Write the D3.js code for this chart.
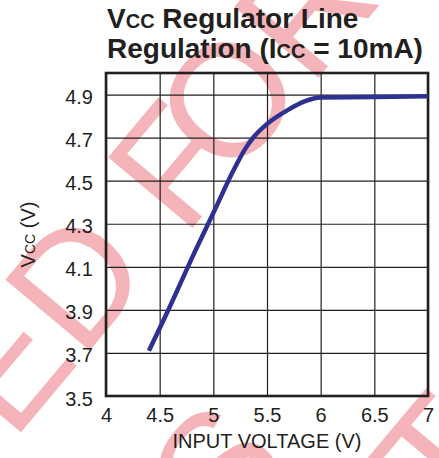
<!DOCTYPE html>
<html>
<head>
<meta charset="utf-8">
<script src="https://cdn.jsdelivr.net/npm/d3@7"></script>
<style>
  body { margin: 0; background: #fff; }
  svg { display: block; font-family: "Liberation Sans", Arial, sans-serif; }
  .sc { font-variant: small-caps; }
</style>
</head>
<body>
<svg width="439" height="458"></svg>
<script>
// input voltage (V) vs Vcc (V)
var vin = [4.4, 4.6, 4.8, 5.0, 5.2, 5.3, 5.38, 5.5, 5.7, 5.85, 6.0, 6.5, 7.0];
var vcc = [3.71, 3.92, 4.14, 4.35, 4.56, 4.65, 4.705, 4.763, 4.83, 4.868, 4.886, 4.888, 4.892];
var xTicks = [4, 4.5, 5, 5.5, 6, 6.5, 7];
var yTicks = [3.5, 3.7, 3.9, 4.1, 4.3, 4.5, 4.7, 4.9];
var xDomain = [4, 7];
var yDomain = [3.5, 5.0];

var svg = d3.select('svg');
var padding = { t: 73, r: 11, b: 62, l: 106 };
var chartWidth = +svg.attr('width') - padding.l - padding.r;
var chartHeight = +svg.attr('height') - padding.t - padding.b;
var ink = '#231f20';

// watermark behind everything
var wm = svg.append('g').attr('fill', '#f5b4ba').style('font-size', '160px');
function mark(parts, idx, px, py) {
  var t = wm.append('text');
  parts.forEach(function(p) {
    t.append('tspan').attr('dx', p[1] || 0).text(p[0]);
  });
  var pos = t.node().getStartPositionOfChar(idx);
  t.attr('transform', 'translate(' + [px, py] + ') rotate(-50) translate(' + [-pos.x, 0] + ')');
}
mark([['NOT RECOMMENDED F'], ['OR', -26]], 16, 184, 238);
mark([['NEW DESIGNS']], 10, 225, 545);
mark([['NOT']], 2, 450, 531);

var xScale = d3.scaleLinear().domain(xDomain).range([0, chartWidth]);
var yScale = d3.scaleLinear().domain(yDomain).range([chartHeight, 0]);

var chartG = svg.append('g')
  .attr('transform', 'translate(' + [padding.l, padding.t] + ')');

var xAxisG = chartG.append('g')
  .attr('transform', 'translate(0,' + chartHeight + ')')
  .call(d3.axisBottom(xScale).tickValues(xTicks).tickFormat(d3.format('')).tickSizeInner(-chartHeight).tickSizeOuter(0).tickPadding(12));
var yAxisG = chartG.append('g')
  .call(d3.axisLeft(yScale).tickValues(yTicks).tickFormat(d3.format('.1f')).tickSizeInner(-chartWidth).tickSizeOuter(0).tickPadding(13));

[xAxisG, yAxisG].forEach(function(g) {
  g.select('.domain').remove();
  g.selectAll('line').attr('stroke', ink).attr('stroke-width', 1.2);
  g.selectAll('text').attr('fill', ink).style('font-size', '20px');
});
yAxisG.selectAll('text').attr('dy', '0.45em');

// frame
chartG.append('rect')
  .attr('width', chartWidth)
  .attr('height', chartHeight)
  .attr('fill', 'none')
  .attr('stroke', ink)
  .attr('stroke-width', 2.6);

var line = d3.line()
  .x(function(d, i) { return xScale(vin[i]); })
  .y(function(d, i) { return yScale(vcc[i]); })
  .curve(d3.curveMonotoneX);

chartG.append('path')
  .datum(vin)
  .attr('d', line)
  .attr('fill', 'none')
  .attr('stroke', '#2e3192')
  .attr('stroke-width', 4.5);

// axis titles
svg.append('text')
  .attr('x', padding.l + chartWidth / 2)
  .attr('y', 448)
  .attr('text-anchor', 'middle')
  .attr('fill', ink)
  .style('font-size', '20px')
  .text('INPUT VOLTAGE (V)');

var yt = svg.append('text')
  .attr('transform', 'translate(35,' + (padding.t + chartHeight / 2) + ') rotate(-90)')
  .attr('text-anchor', 'middle')
  .attr('fill', ink)
  .style('font-size', '20px');
yt.append('tspan').text('V');
yt.append('tspan').attr('class', 'sc').text('cc');
yt.append('tspan').text(' (V)');

// title
var title = svg.append('text')
  .attr('fill', ink)
  .style('font-size', '28px')
  .style('font-weight', 'bold');
var l1 = title.append('tspan').attr('x', 107).attr('y', 28);
l1.append('tspan').text('V');
l1.append('tspan').attr('class', 'sc').text('cc');
l1.append('tspan').text(' Regulator Line');
var l2 = title.append('tspan').attr('x', 107).attr('y', 58);
l2.append('tspan').text('Regulation (I');
l2.append('tspan').attr('class', 'sc').text('cc');
l2.append('tspan').text(' = 10mA)');
</script>
</body>
</html>
